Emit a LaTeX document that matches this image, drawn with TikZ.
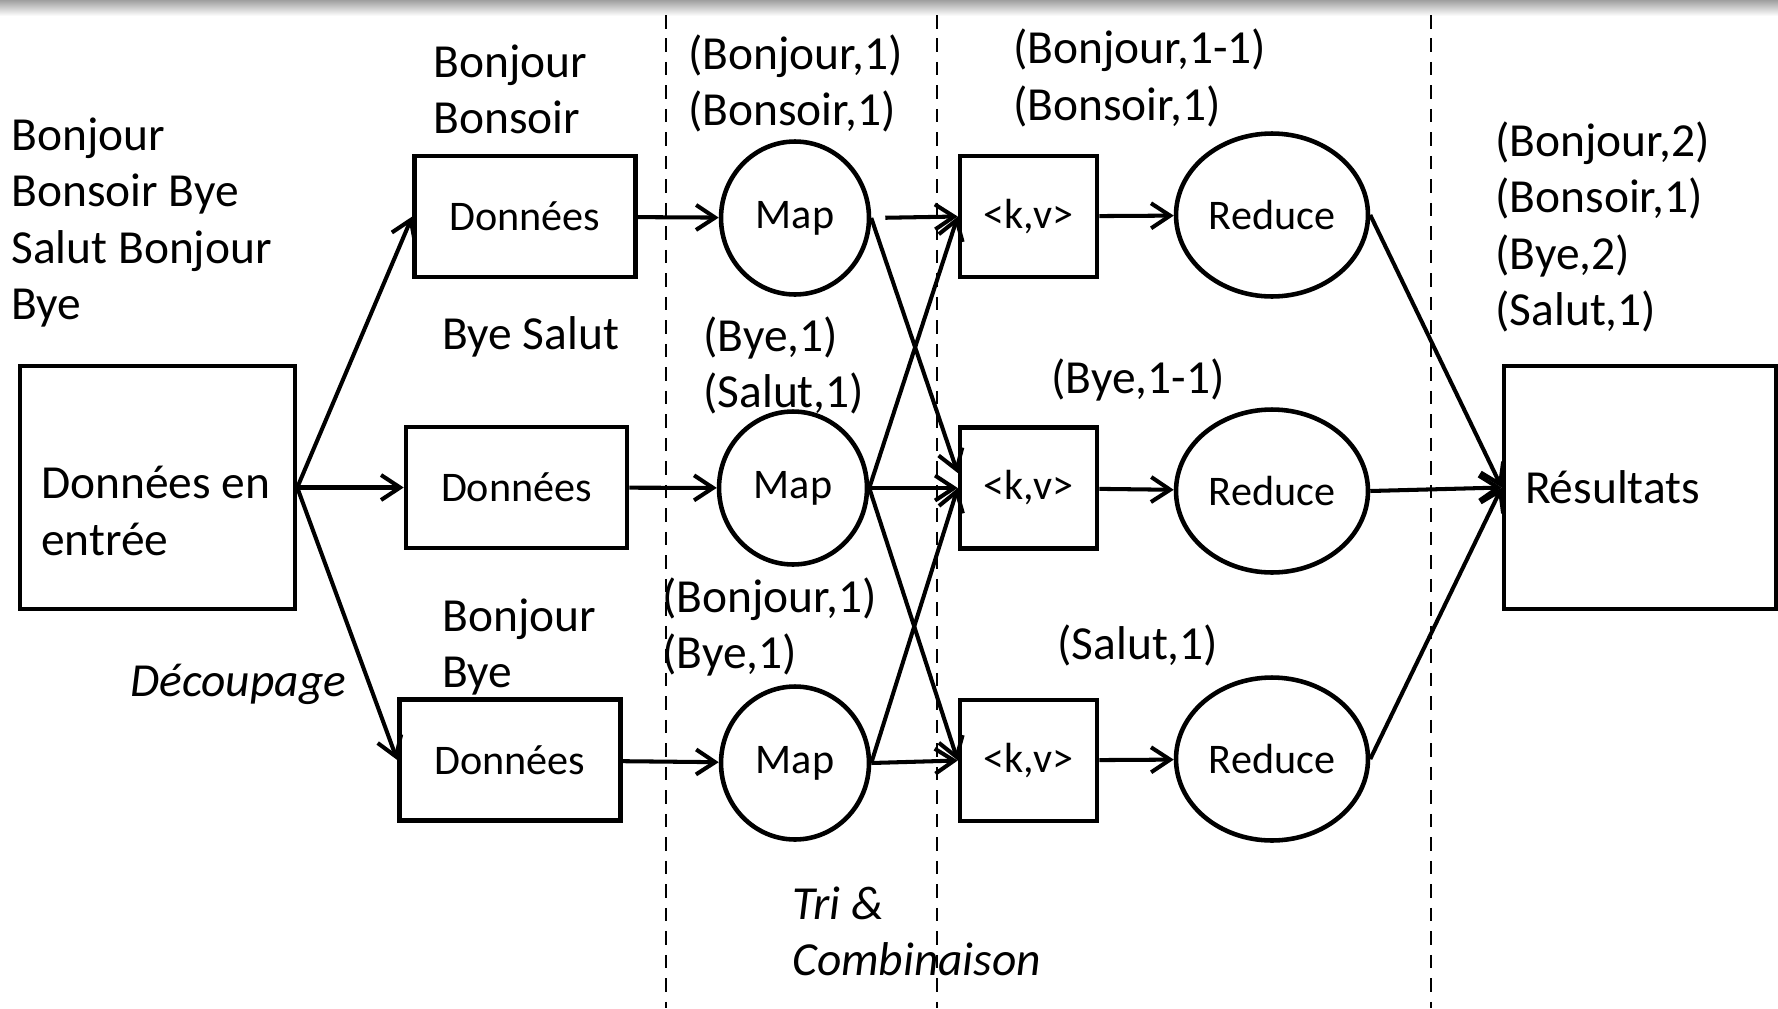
\documentclass[tikz,border=0pt]{standalone}
\usepackage{fontspec}
\setmainfont{Carlito}
\usetikzlibrary{shapes.geometric, arrows.meta, positioning}
\tikzset{
  bigbox/.style={
    rectangle, draw, line width=2.6pt,
    minimum width=5.5cm, minimum height=4.86cm,
    font=\fontsize{27}{32}\selectfont
  },
  databox/.style={
    rectangle, draw, line width=2.6pt,
    minimum width=4.42cm, minimum height=2.42cm,
    font=\fontsize{24}{29}\selectfont
  },
  kvbox/.style={
    rectangle, draw, line width=2.6pt,
    minimum width=2.74cm, minimum height=2.42cm,
    font=\fontsize{24}{29}\selectfont
  },
  mapnode/.style={
    ellipse, draw, line width=2.6pt, inner sep=0pt,
    minimum width=2.96cm, minimum height=3.06cm,
    font=\fontsize{24}{29}\selectfont
  },
  rednode/.style={
    ellipse, draw, line width=2.6pt, inner sep=0pt,
    minimum width=3.84cm, minimum height=3.26cm,
    font=\fontsize{24}{29}\selectfont
  },
  words/.style={inner sep=0pt, anchor=west, align=left,
    font=\fontsize{27}{32}\selectfont},
  arr/.style={-{Straight Barb[length=0.38cm, width=0.5cm]}, line width=2.3pt},
  phase/.style={dash pattern=on 0.27cm off 0.2cm, line width=1.5pt},
}
\begin{document}
\begin{tikzpicture}[x=0.02cm, y=-0.02cm]
  \useasboundingbox (0,0) rectangle (1778,1008);
  \shade[top color=gray!75, bottom color=white] (0,0) rectangle (1778,16);

  % phase separators
  \foreach \x in {666, 937, 1431}
    \draw[phase] (\x,15) -- (\x,1008);

  % Nodes
  \node[bigbox] (inp) at (157.5,487.5) {};
  \node[words] (inptxt) at ([xshift=0.46cm, yshift=-0.47cm]inp.west) {Données en\\entrée};

  \node[databox] (d1) at (525,216.5) {Données};
  \node[databox] (d2) at (516.5,487.5) {Données};
  \node[databox] (d3) at (510,760) {Données};

  \node[mapnode] (m1) at (795,218) {Map};
  \node[mapnode] (m2) at (793,488) {Map};
  \node[mapnode] (m3) at (795,763) {Map};

  \node[kvbox] (kv1) at (1028.5,216.5) {<k,v>};
  \node[kvbox] (kv2) at (1028.5,488) {<k,v>};
  \node[kvbox] (kv3) at (1028.5,760.5) {<k,v>};

  \node[rednode] (r1) at (1272,215) {Reduce};
  \node[rednode] (r2) at (1272,491) {Reduce};
  \node[rednode] (r3) at (1272,759) {Reduce};

  \node[bigbox, minimum width=5.44cm, text width=4.6cm, inner xsep=0.42cm,
        align=left] (res) at (1640,487.5) {Résultats};

  % Texts
  \node[words] (leftwords) at (11,222.5) {Bonjour\\Bonsoir Bye\\Salut Bonjour\\Bye};
  \node[words] (w1) at (433,89.5) {Bonjour\\Bonsoir};
  \node[words] (w2) at (442,337) {Bye Salut};
  \node[words] (w3) at (442,647) {Bonjour\\Bye};
  \node[words, font=\fontsize{27}{32}\selectfont\itshape] (decoup) at (130,684) {Découpage};

  \node[words] (p1) at (688,83.5) {(Bonjour,1)\\(Bonsoir,1)};
  \node[words] (p2) at (703,365.5) {(Bye,1)\\(Salut,1)};
  \node[words] (p3) at (662,627) {(Bonjour,1)\\(Bye,1)};

  \node[words] (c1) at (1013,78) {(Bonjour,1-1)\\(Bonsoir,1)};
  \node[words] (c2) at (1051,380) {(Bye,1-1)};
  \node[words] (c3) at (1057,645) {(Salut,1)};

  \node[words] (outw) at (1495,227) {(Bonjour,2)\\(Bonsoir,1)\\(Bye,2)\\(Salut,1)};
  \node[words, font=\fontsize{27}{32}\selectfont\itshape] (tri) at (792,931.5) {Tri \&\\Combinaison};

  % Arrows
  \draw[arr] (inp.east) -- (d1.west);
  \draw[arr] (inp.east) -- (d2.west);
  \draw[arr] (inp.east) -- (d3.west);

  \draw[arr] (d1) -- (m1);
  \draw[arr] (d2) -- (m2);
  \draw[arr] (d3) -- (m3);

  \draw[arr, shorten <=0.28cm] (m1.east) -- (kv1.west);
  \draw[arr] (m1.east) -- ([yshift=0.3cm]kv2.west);
  \draw[arr] (m2.east) -- (kv1.west);
  \draw[arr] (m2.east) -- (kv2.west);
  \draw[arr] (m2.east) -- (kv3.west);
  \draw[arr] (m3.east) -- (kv2.west);
  \draw[arr] (m3.east) -- (kv3.west);

  \draw[arr] (kv1) -- (r1);
  \draw[arr] (kv2) -- (r2);
  \draw[arr] (kv3) -- (r3);

  \draw[arr] (r1.east) -- (res.west);
  \draw[arr] (r2.east) -- (res.west);
  \draw[arr] (r3.east) -- (res.west);

\end{tikzpicture}
\end{document}
